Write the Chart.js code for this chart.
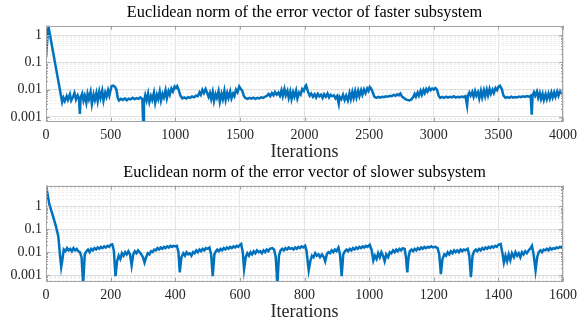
<!DOCTYPE html>
<html>
<head>
<meta charset="utf-8">
<script src="https://cdn.jsdelivr.net/npm/chart.js@4.4.1/dist/chart.umd.min.js"></script>
<style>
  body { margin: 0; background: #fff; }
  canvas { position: absolute; left: 0; }
</style>
</head>
<body>
<canvas id="fast" width="582" height="161" style="top:0"></canvas>
<canvas id="slow" width="582" height="161" style="top:160px"></canvas>
<script>
// [iteration, norm]
const fastSeries = [
  [0,0.15],[18,2.2],[125,0.0035],[135,0.0050],[145,0.0038],[160,0.0058],[170,0.0042],[185,0.0068],[195,0.0040],[210,0.0055],
  [220,0.0075],[232,0.0043],[245,0.0062],[255,0.0048],[262,0.0013],[268,0.0052],[280,0.0072],[290,0.0040],[300,0.0060],[312,0.0033],
  [322,0.0070],[332,0.0045],[345,0.0082],[355,0.0030],[368,0.0066],[378,0.0042],[390,0.0075],[400,0.0038],[412,0.0085],[422,0.0050],
  [435,0.0092],[445,0.0040],[458,0.0078],[468,0.0055],[480,0.0095],[490,0.0062],[500,0.0100],[508,0.0135],[520,0.0140],[535,0.0125],
  [545,0.0100],[555,0.0050],[565,0.0040],[580,0.0046],[595,0.0042],[610,0.0048],[625,0.0041],[640,0.0047],[655,0.0044],[670,0.0050],
  [685,0.0045],[700,0.0049],[715,0.0046],[730,0.0052],[745,0.0045],[752,0.0006],[758,0.0035],[768,0.0062],[778,0.0040],[790,0.0072],
  [800,0.0035],[812,0.0058],[822,0.0042],[835,0.0078],[845,0.0033],[858,0.0065],[868,0.0045],[880,0.0085],[890,0.0040],[902,0.0070],
  [912,0.0052],[925,0.0095],[935,0.0048],[948,0.0088],[958,0.0065],[970,0.0110],[982,0.0085],[995,0.0130],[1005,0.0115],[1015,0.0135],
  [1025,0.0105],[1040,0.0060],[1055,0.0048],[1070,0.0052],[1085,0.0047],[1100,0.0053],[1115,0.0050],[1130,0.0056],[1145,0.0052],[1160,0.0060],
  [1175,0.0058],[1188,0.0080],[1198,0.0065],[1210,0.0098],[1222,0.0075],[1235,0.0105],[1245,0.0080],[1258,0.0055],[1268,0.0075],[1278,0.0045],
  [1290,0.0082],[1300,0.0038],[1312,0.0068],[1322,0.0050],[1335,0.0088],[1345,0.0036],[1358,0.0070],[1368,0.0045],[1380,0.0090],[1390,0.0042],
  [1402,0.0075],[1412,0.0050],[1425,0.0085],[1435,0.0048],[1448,0.0072],[1458,0.0058],[1470,0.0100],[1482,0.0080],[1495,0.0130],[1505,0.0110],
  [1518,0.0090],[1530,0.0060],[1542,0.0050],[1560,0.0046],[1575,0.0050],[1590,0.0047],[1605,0.0051],[1620,0.0046],[1635,0.0050],[1650,0.0048],
  [1665,0.0052],[1680,0.0050],[1695,0.0055],[1710,0.0060],[1722,0.0070],[1735,0.0058],[1748,0.0075],[1760,0.0062],[1772,0.0082],[1785,0.0066],
  [1798,0.0078],[1810,0.0060],[1822,0.0095],[1832,0.0058],[1845,0.0105],[1855,0.0062],[1868,0.0090],[1878,0.0050],[1890,0.0085],[1900,0.0045],
  [1912,0.0080],[1922,0.0055],[1935,0.0092],[1945,0.0048],[1958,0.0078],[1970,0.0065],[1982,0.0105],[1995,0.0090],[2005,0.0130],[2012,0.0145],
  [2025,0.0090],[2040,0.0060],[2052,0.0072],[2065,0.0055],[2078,0.0068],[2090,0.0052],[2102,0.0070],[2115,0.0057],[2128,0.0066],[2140,0.0050],
  [2152,0.0068],[2165,0.0055],[2178,0.0072],[2190,0.0052],[2202,0.0065],[2215,0.0058],[2228,0.0062],[2240,0.0048],[2252,0.0058],[2265,0.0030],
  [2272,0.0055],[2285,0.0045],[2298,0.0065],[2310,0.0042],[2322,0.0060],[2335,0.0040],[2348,0.0075],[2358,0.0045],[2370,0.0082],[2380,0.0050],
  [2392,0.0088],[2402,0.0052],[2415,0.0090],[2425,0.0058],[2438,0.0095],[2448,0.0065],[2460,0.0102],[2472,0.0075],[2485,0.0110],[2495,0.0090],
  [2505,0.0125],[2515,0.0110],[2528,0.0080],[2540,0.0055],[2555,0.0050],[2570,0.0054],[2585,0.0051],[2600,0.0055],[2615,0.0053],[2630,0.0057],
  [2645,0.0055],[2660,0.0060],[2675,0.0058],[2690,0.0064],[2705,0.0060],[2718,0.0068],[2730,0.0062],[2742,0.0072],[2755,0.0055],[2768,0.0050],
  [2780,0.0045],[2795,0.0042],[2810,0.0040],[2825,0.0043],[2840,0.0052],[2852,0.0070],[2862,0.0055],[2875,0.0078],[2885,0.0060],[2898,0.0090],
  [2908,0.0065],[2920,0.0098],[2930,0.0075],[2942,0.0105],[2952,0.0085],[2965,0.0115],[2975,0.0095],[2988,0.0110],[3000,0.0100],[3012,0.0115],
  [3025,0.0100],[3038,0.0060],[3050,0.0050],[3065,0.0054],[3080,0.0050],[3095,0.0055],[3110,0.0051],[3125,0.0055],[3140,0.0052],[3155,0.0057],
  [3170,0.0051],[3185,0.0055],[3200,0.0052],[3215,0.0056],[3230,0.0053],[3245,0.0058],[3258,0.0026],[3265,0.0060],[3275,0.0078],[3285,0.0060],
  [3298,0.0082],[3308,0.0055],[3320,0.0088],[3330,0.0060],[3342,0.0080],[3352,0.0048],[3365,0.0090],[3375,0.0052],[3388,0.0095],[3398,0.0058],
  [3410,0.0100],[3420,0.0062],[3432,0.0105],[3442,0.0070],[3455,0.0100],[3465,0.0075],[3478,0.0115],[3490,0.0095],[3502,0.0130],[3512,0.0140],
  [3525,0.0110],[3540,0.0060],[3555,0.0050],[3570,0.0053],[3585,0.0050],[3600,0.0055],[3615,0.0051],[3630,0.0054],[3645,0.0052],[3660,0.0056],
  [3675,0.0053],[3690,0.0057],[3705,0.0054],[3720,0.0058],[3735,0.0055],[3750,0.0060],[3758,0.0012],[3765,0.0060],[3775,0.0080],[3785,0.0060],
  [3798,0.0085],[3808,0.0050],[3820,0.0075],[3830,0.0045],[3842,0.0070],[3852,0.0042],[3865,0.0068],[3875,0.0045],[3888,0.0072],[3898,0.0048],
  [3910,0.0078],[3920,0.0052],[3932,0.0080],[3942,0.0055],[3955,0.0085],[3965,0.0060],[3978,0.0090],[3990,0.0075],[4000,0.0100]
];

const slowSeries = [
  [0,9],[10,1.3],[20,0.45],[30,0.15],[38,0.05],[44,0.006],[47,0.0022],[50,0.004],[55,0.013],[60,0.011],
  [65,0.015],[70,0.012],[75,0.014],[80,0.011],[85,0.015],[90,0.012],[95,0.014],[100,0.011],[105,0.010],[110,0.006],
  [115,0.0004],[120,0.008],[125,0.011],[130,0.013],[135,0.010],[140,0.014],[145,0.012],[150,0.015],[155,0.013],[160,0.016],
  [165,0.014],[170,0.017],[175,0.015],[180,0.018],[185,0.016],[190,0.019],[195,0.017],[200,0.021],[205,0.022],[210,0.012],
  [215,0.0009],[220,0.004],[225,0.007],[230,0.005],[235,0.009],[240,0.007],[245,0.010],[250,0.008],[255,0.011],[260,0.008],
  [265,0.0026],[270,0.008],[275,0.011],[280,0.009],[285,0.012],[290,0.010],[295,0.008],[300,0.006],[305,0.0035],[310,0.006],
  [315,0.009],[320,0.008],[325,0.011],[330,0.010],[335,0.013],[340,0.012],[345,0.015],[350,0.013],[355,0.016],[360,0.014],
  [365,0.017],[370,0.015],[375,0.018],[380,0.016],[385,0.019],[390,0.017],[395,0.019],[400,0.018],[405,0.019],[410,0.010],
  [414,0.0013],[419,0.006],[425,0.009],[430,0.007],[435,0.010],[440,0.008],[445,0.009],[450,0.007],[455,0.010],[460,0.009],
  [465,0.012],[470,0.010],[475,0.013],[480,0.011],[485,0.014],[490,0.012],[495,0.015],[500,0.014],[506,0.016],[511,0.008],
  [516,0.0009],[521,0.008],[526,0.011],[530,0.013],[535,0.011],[540,0.014],[545,0.012],[550,0.015],[555,0.013],[560,0.016],
  [565,0.014],[570,0.017],[575,0.015],[580,0.018],[585,0.016],[590,0.019],[595,0.017],[600,0.021],[604,0.023],[609,0.010],
  [613,0.0018],[618,0.006],[623,0.009],[628,0.007],[633,0.010],[638,0.008],[643,0.011],[648,0.009],[653,0.012],[658,0.010],
  [663,0.011],[668,0.009],[673,0.012],[678,0.010],[683,0.013],[688,0.011],[693,0.014],[700,0.015],[706,0.013],[711,0.006],
  [716,0.0004],[721,0.007],[726,0.012],[731,0.014],[736,0.012],[741,0.015],[746,0.013],[751,0.016],[756,0.014],[761,0.015],
  [766,0.013],[771,0.016],[776,0.014],[781,0.017],[786,0.015],[791,0.018],[796,0.016],[802,0.019],[806,0.012],[813,0.0016],
  [818,0.004],[823,0.007],[828,0.006],[833,0.009],[838,0.007],[843,0.008],[848,0.006],[854,0.008],[860,0.006],[864,0.004],
  [869,0.008],[874,0.010],[879,0.009],[884,0.012],[889,0.010],[894,0.013],[899,0.011],[905,0.016],[910,0.008],[915,0.0009],
  [920,0.008],[925,0.011],[930,0.013],[935,0.011],[940,0.014],[945,0.012],[950,0.015],[955,0.013],[960,0.016],[965,0.014],
  [970,0.017],[975,0.015],[980,0.018],[985,0.016],[990,0.019],[995,0.017],[1002,0.021],[1008,0.012],[1013,0.0043],[1018,0.007],
  [1023,0.005],[1028,0.009],[1033,0.006],[1038,0.010],[1043,0.007],[1048,0.004],[1053,0.008],[1059,0.006],[1064,0.010],[1069,0.009],
  [1074,0.012],[1079,0.010],[1084,0.013],[1089,0.011],[1094,0.014],[1099,0.012],[1104,0.015],[1110,0.014],[1114,0.006],[1118,0.0013],
  [1122,0.006],[1126,0.011],[1131,0.013],[1136,0.011],[1141,0.014],[1146,0.012],[1151,0.015],[1156,0.013],[1161,0.016],[1166,0.014],
  [1171,0.017],[1176,0.015],[1181,0.017],[1186,0.016],[1192,0.018],[1198,0.016],[1205,0.017],[1212,0.015],[1217,0.008],[1222,0.0011],
  [1227,0.005],[1233,0.008],[1238,0.007],[1243,0.010],[1248,0.008],[1253,0.011],[1258,0.009],[1263,0.012],[1268,0.010],[1273,0.012],
  [1278,0.010],[1283,0.013],[1288,0.011],[1293,0.013],[1298,0.012],[1305,0.014],[1310,0.007],[1315,0.0008],[1320,0.007],[1325,0.011],
  [1330,0.013],[1335,0.011],[1340,0.014],[1345,0.012],[1350,0.015],[1355,0.013],[1360,0.016],[1365,0.014],[1370,0.017],[1375,0.015],
  [1380,0.018],[1385,0.016],[1390,0.019],[1395,0.017],[1400,0.021],[1407,0.023],[1412,0.010],[1417,0.0035],[1422,0.007],[1427,0.004],
  [1432,0.008],[1437,0.0045],[1442,0.009],[1448,0.006],[1453,0.010],[1458,0.007],[1463,0.009],[1468,0.006],[1473,0.010],[1478,0.008],
  [1483,0.011],[1488,0.009],[1494,0.012],[1500,0.015],[1504,0.019],[1509,0.008],[1515,0.0016],[1520,0.006],[1525,0.010],[1530,0.012],
  [1535,0.010],[1540,0.013],[1545,0.012],[1550,0.014],[1555,0.012],[1560,0.015],[1565,0.013],[1570,0.015],[1575,0.014],[1580,0.016],
  [1585,0.015],[1590,0.017],[1595,0.016],[1600,0.018]
];

const xTicksFast = [0, 500, 1000, 1500, 2000, 2500, 3000, 3500, 4000];
const xTicksSlow = [0, 200, 400, 600, 800, 1000, 1200, 1400, 1600];
const yTickLabels = [0.001, 0.01, 0.1, 1];
const yMinorSteps = [2, 3, 4, 5, 6, 7, 8, 9];

const titleFast = 'Euclidean norm of the error vector of faster subsystem';
const titleSlow = 'Euclidean norm of the error vector of slower subsystem';

const lineColor = '#0072BD';
const textColor = '#262626';
const serif = "'Liberation Serif', 'Times New Roman', serif";

// caja gris, marcas hacia adentro y titulo centrado sobre el area del grafico
const boxPlugin = {
  id: 'boxPlugin',
  afterDraw(chart, args, opts) {
    const { ctx, chartArea: a, scales } = chart;
    ctx.save();
    ctx.strokeStyle = '#a3a3a3';
    ctx.lineWidth = 1;
    ctx.beginPath();
    scales.y.ticks.forEach(t => {
      const py = Math.round(scales.y.getPixelForValue(t.value)) + 0.5;
      if (py < a.top || py > a.bottom) return;
      const len = t.major ? 4 : 2;
      ctx.moveTo(a.left, py); ctx.lineTo(a.left + len, py);
      ctx.moveTo(a.right, py); ctx.lineTo(a.right - len, py);
    });
    scales.x.ticks.forEach(t => {
      const px = Math.round(scales.x.getPixelForValue(t.value)) + 0.5;
      ctx.moveTo(px, a.top); ctx.lineTo(px, a.top + 4);
      ctx.moveTo(px, a.bottom); ctx.lineTo(px, a.bottom - 4);
    });
    ctx.stroke();
    ctx.strokeRect(Math.round(a.left) + 0.5, Math.round(a.top) + 0.5,
      Math.round(a.right - a.left) - 1, Math.round(a.bottom - a.top) - 1);

    ctx.fillStyle = '#000';
    ctx.font = '16.3px ' + serif;
    ctx.textAlign = 'center';
    ctx.textBaseline = 'middle';
    ctx.fillText(opts.text, (a.left + a.right) / 2, 13);
    ctx.restore();
  }
};

function makeChart(id, series, xTicks, yMin, yMax, title) {
  const ctx = document.getElementById(id).getContext('2d');
  return new Chart(ctx, {
    type: 'line',
    data: {
      datasets: [{
        data: series.map(p => ({ x: p[0], y: p[1] })),
        borderColor: lineColor,
        borderWidth: 2.5,
        pointRadius: 0,
        tension: 0,
        fill: false,
        clip: 0
      }]
    },
    options: {
      responsive: false,
      animation: false,
      events: [],
      layout: { padding: { left: 0, right: 16, top: 25.7, bottom: 0 } },
      plugins: {
        legend: { display: false },
        tooltip: { enabled: false },
        title: { display: false },
        boxPlugin: { text: title }
      },
      scales: {
        x: {
          type: 'linear',
          min: xTicks[0],
          max: xTicks[xTicks.length - 1],
          afterBuildTicks: s => { s.ticks = xTicks.map(v => ({ value: v })); },
          afterFit: s => { s.height = 39.3; },
          ticks: {
            autoSkip: false,
            maxRotation: 0,
            padding: 5,
            color: textColor,
            font: { family: serif, size: 14 },
            callback: v => String(v)
          },
          grid: { color: '#e3e3e3', drawTicks: false },
          border: { display: false },
          title: {
            display: true,
            text: 'Iterations',
            color: textColor,
            font: { family: serif, size: 18, lineHeight: 1 },
            padding: { top: 0, bottom: 0 }
          }
        },
        y: {
          type: 'logarithmic',
          min: yMin,
          max: yMax,
          afterBuildTicks: s => {
            const t = [];
            yTickLabels.forEach(d => {
              if (d >= yMin && d <= yMax) t.push({ value: d, major: true });
              yMinorSteps.forEach(m => {
                const v = d * m;
                if (v >= yMin && v <= yMax) t.push({ value: v, major: false });
              });
            });
            const low = yTickLabels[0] / 10;
            yMinorSteps.forEach(m => {
              if (low * m >= yMin && low * m <= yMax) t.push({ value: low * m, major: false });
            });
            t.sort((p, q) => p.value - q.value);
            s.ticks = t;
          },
          afterFit: s => { s.width = 46; },
          ticks: {
            autoSkip: false,
            padding: 4,
            color: textColor,
            font: { family: serif, size: 14 },
            callback: function (v, i, ticks) {
              return ticks[i].major ? String(v) : '';
            }
          },
          grid: {
            drawTicks: false,
            color: c => (c.tick && c.tick.major) ? '#e0e0e0' : '#eeeeee'
          },
          border: {
            display: false,
            dash: c => (c.tick && c.tick.major) ? [] : [2, 2]
          }
        }
      }
    },
    plugins: [boxPlugin]
  });
}

makeChart('fast', fastSeries, xTicksFast, 0.00067, 2.2, titleFast);
makeChart('slow', slowSeries, xTicksSlow, 0.00051, 8.1, titleSlow);
</script>
</body>
</html>
